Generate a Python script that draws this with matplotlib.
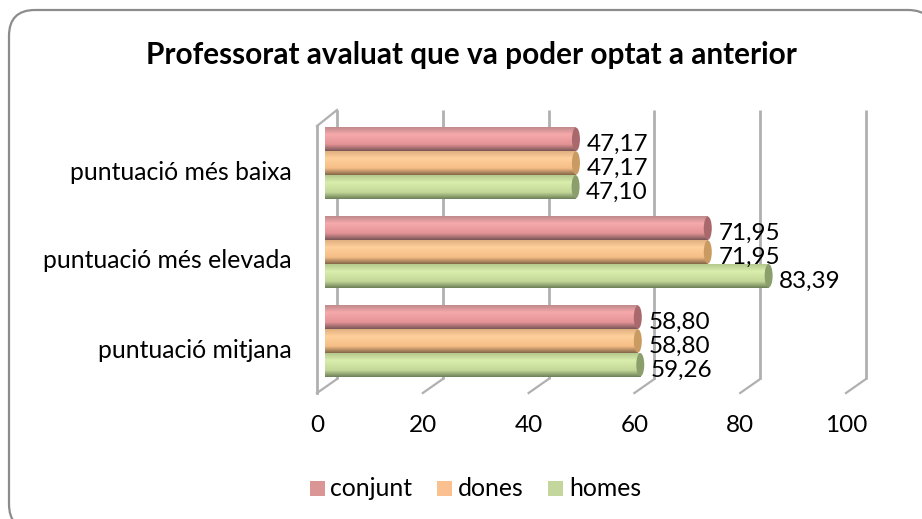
import numpy as np
import matplotlib
matplotlib.use("Agg")
import matplotlib.pyplot as plt
from matplotlib.colors import LinearSegmentedColormap
from matplotlib.patches import Ellipse, FancyBboxPatch, Rectangle

plt.rcParams['font.family'] = ['Lato', 'DejaVu Sans']

titol = "Professorat avaluat que va poder optat a anterior"
categories = ["puntuació mitjana", "puntuació més elevada", "puntuació més baixa"]
conjunt = [58.80, 71.95, 47.17]
dones = [58.80, 71.95, 47.17]
homes = [59.26, 83.39, 47.10]
ticks = [0, 20, 40, 60, 80, 100]

W, H = 922, 519

# colors del cilindre: vora fosca, clar, mig, ombra
colors = {
    "conjunt": ["#c08a8c", "#f6a9ab", "#e39396", "#7a5556"],
    "dones": ["#e0b080", "#ffd09c", "#f5bd85", "#85664a"],
    "homes": ["#b5c98e", "#d9edac", "#c3d898", "#6d8058"],
}
cap = {"conjunt": "#a9686c", "dones": "#c99a62", "homes": "#8a9f6c"}
legend_col = {"conjunt": "#d99694", "dones": "#fac090", "homes": "#c3d69b"}


def axes_px(left, top, right, bottom):
    return fig.add_axes([left / W, 1 - bottom / H, (right - left) / W, (bottom - top) / H])


fig = plt.figure(figsize=(W / 100, H / 100), dpi=100)

# fons i marc arrodonit
bg = fig.add_axes([0, 0, 1, 1])
bg.set_xlim(0, W)
bg.set_ylim(H, 0)
bg.axis("off")
bg.add_patch(FancyBboxPatch((9, 10), 925, 520, boxstyle="round,pad=0,rounding_size=26",
                            fc="white", ec="#8c8c8c", lw=1.6))

bg.text(471, 55, titol, ha="center", va="center", fontsize=21.4, fontweight="bold", color="black")

# parets 3d: pla frontal 0..100 de 317 a 846 px, pla del fons desplaçat 20 px
wall = axes_px(317, 110, 846, 394)
wall.set_xlim(0, 100)
wall.set_ylim(284, 0)
wall.axis("off")
wall.patch.set_alpha(0)
dx = 20 * 100 / 529
gris = "#b0b0b0"
for t in ticks:
    wall.plot([t + dx, t + dx], [0, 269], color=gris, lw=2, clip_on=False, solid_capstyle="butt")
    wall.plot([t, t + dx], [283, 269], color=gris, lw=1.6, clip_on=False)
    wall.text(t, 316, str(t), ha="center", va="center", fontsize=17.5, color="black", clip_on=False)
wall.plot([0, 0], [16, 283], color=gris, lw=2, clip_on=False)
wall.plot([0, dx], [16, 0], color=gris, lw=1.6, clip_on=False)

# barres cilíndriques
ax = axes_px(325, 110, 857, 394)
ax.set_xlim(0, 100)
ax.set_ylim((341 - 394) / 89, (341 - 110) / 89)
ax.axis("off")
ax.patch.set_alpha(0)

h = 0.267
cap_w = 1.5


def draw_bar(y, v, nom):
    cmap = LinearSegmentedColormap.from_list(
        nom, list(zip([0, 0.3, 0.72, 1], colors[nom])))
    grad = np.linspace(0, 1, 64).reshape(-1, 1)
    ext = (0, v, y - h / 2, y + h / 2)
    ax.imshow(grad, cmap=cmap, extent=ext, aspect="auto", origin="upper", zorder=3)
    # extrem esquerre arrodonit
    left = Ellipse((0, y), cap_w, h, transform=ax.transData, fc="none", ec="none")
    ax.add_patch(left)
    im = ax.imshow(grad, cmap=cmap, extent=(-cap_w / 2, 0.1, y - h / 2, y + h / 2),
                   aspect="auto", origin="upper", zorder=3)
    im.set_clip_path(left)
    # tapa dreta
    ax.add_patch(Ellipse((v, y), cap_w, h * 0.98, fc=cap[nom], ec="none", zorder=4))


series = [("conjunt", conjunt, h), ("dones", dones, 0), ("homes", homes, -h)]
for nom, vals, off in series:
    for i, v in enumerate(vals):
        draw_bar(i + off, v, nom)
        ax.text(v + 2.0, i + off - 0.06, f"{v:.2f}".replace(".", ","), ha="left", va="center",
                fontsize=17.5, color="black", zorder=5, clip_on=False)
ax.set_xlim(0, 100)
ax.set_ylim((341 - 394) / 89, (341 - 110) / 89)

for i, c in enumerate(categories):
    bg.text(292, 350 - i * 89, c, ha="right", va="center", fontsize=17.8, color="black")

# llegenda
for (nom, x_box, x_txt) in [("conjunt", 310, 330), ("dones", 437, 458), ("homes", 548, 569)]:
    bg.add_patch(Rectangle((x_box, 481), 15, 15, fc=legend_col[nom], ec="none"))
    bg.text(x_txt, 488, nom, ha="left", va="center", fontsize=17.8, color="black")

fig.savefig("out.png", dpi=100)
